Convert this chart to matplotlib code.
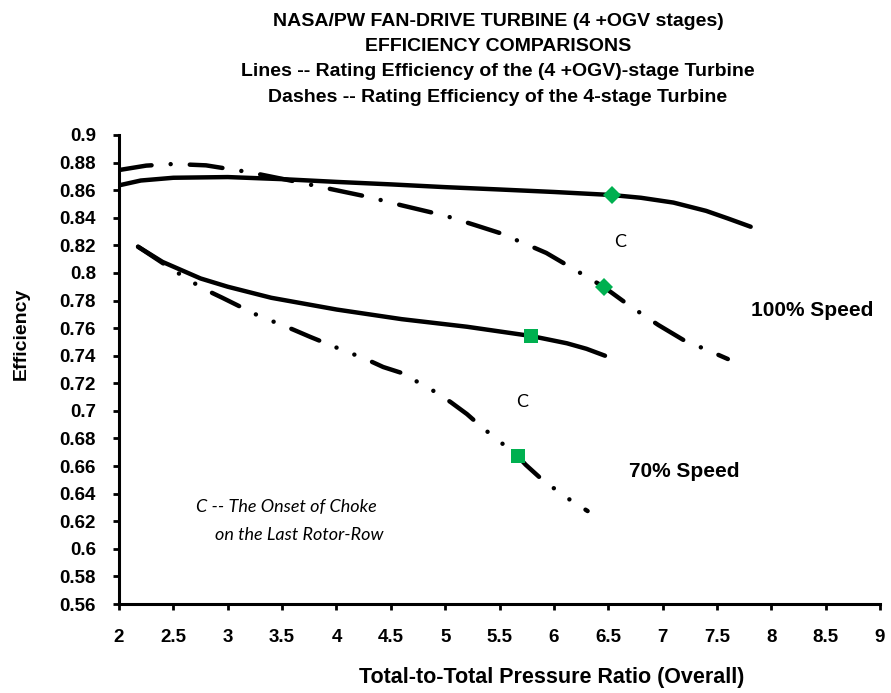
import numpy as np
import matplotlib
matplotlib.use("Agg")
import matplotlib.pyplot as plt
from matplotlib.ticker import MultipleLocator, FuncFormatter

# 100% speed, (4 +OGV)-stage turbine (solid)
x_100_ogv = [2.0, 2.2, 2.5, 3.0, 3.5, 4.0, 4.5, 5.0, 5.5, 6.0, 6.53, 6.8, 7.1, 7.4, 7.6, 7.81]
y_100_ogv = [0.8635, 0.867, 0.869, 0.8695, 0.868, 0.866, 0.8642, 0.8622, 0.8605, 0.8587,
             0.8565, 0.8545, 0.851, 0.845, 0.8395, 0.8335]

# 100% speed, 4-stage turbine (dash-dot)
x_100_4st = [2.0, 2.25, 2.5, 2.8, 3.2, 3.67, 3.9, 4.3, 4.6, 5.0, 5.27, 5.5, 5.76, 5.93,
             6.2, 6.46, 6.7, 6.96, 7.2, 7.4, 7.6]
y_100_4st = [0.8746, 0.8778, 0.879, 0.878, 0.873, 0.8655, 0.8616, 0.855, 0.849, 0.8415,
             0.8348, 0.829, 0.8203, 0.8145, 0.802, 0.7898, 0.776, 0.7623, 0.751, 0.7445, 0.7376]

# 70% speed, (4 +OGV)-stage turbine (solid)
x_70_ogv = [2.175, 2.4, 2.75, 3.0, 3.4, 4.0, 4.6, 5.2, 5.79, 6.12, 6.3, 6.47]
y_70_ogv = [0.819, 0.808, 0.796, 0.790, 0.782, 0.7735, 0.7665, 0.761, 0.7543, 0.749, 0.745, 0.740]

# 70% speed, 4-stage turbine (dash-dot-dot)
x_70_4st = [2.175, 2.47, 2.63, 2.78, 2.95, 3.27, 3.43, 3.6, 3.76, 4.1, 4.25, 4.43, 4.6,
            4.91, 5.05, 5.2, 5.34, 5.6, 5.67, 5.74, 5.88, 6.1, 6.31]
y_70_4st = [0.819, 0.8036, 0.7956, 0.7884, 0.782, 0.7695, 0.7644, 0.759, 0.7536, 0.7427,
            0.7383, 0.7318, 0.7275, 0.7137, 0.7064, 0.6977, 0.688, 0.6716, 0.667, 0.661,
            0.651, 0.638, 0.6274]

# onset of choke points
choke_100_x = [6.53, 6.46]
choke_100_y = [0.8565, 0.7898]
choke_70_x = [5.79, 5.67]
choke_70_y = [0.7543, 0.667]

title_lines = [
    "NASA/PW FAN-DRIVE TURBINE (4 +OGV stages)",
    "EFFICIENCY COMPARISONS",
    "Lines -- Rating Efficiency of the (4 +OGV)-stage Turbine",
    "Dashes -- Rating Efficiency of the 4-stage Turbine",
]

green = "#00B050"
lw = 3.2
arial = ["Liberation Sans", "DejaVu Sans"]
calibri = ["Lato", "Open Sans", "DejaVu Sans"]

fig = plt.figure(figsize=(8.91, 6.93), dpi=100)
ax = fig.add_axes([0.1336, 0.1284, 0.8541, 0.6768])

ax.plot(x_100_ogv, y_100_ogv, color="black", lw=lw, solid_capstyle="round")
ax.plot(x_70_ogv, y_70_ogv, color="black", lw=lw, solid_capstyle="round")
ax.plot(x_100_4st, y_100_4st, color="black", lw=lw, dash_capstyle="round",
        linestyle=(0, (7.4, 4.3, 0.01, 4.3)))
ax.plot(x_70_4st, y_70_4st, color="black", lw=lw, dash_capstyle="round",
        linestyle=(0, (6.8, 4.2, 0.01, 4.3, 0.01, 4.3)))

ax.plot(choke_100_x, choke_100_y, linestyle="none", marker="D", ms=9.5,
        color=green, markeredgewidth=0, zorder=5)
ax.plot(choke_70_x, choke_70_y, linestyle="none", marker="s", ms=10.5,
        color=green, markeredgewidth=0, zorder=5)

ax.set_xlim(2, 9)
ax.set_ylim(0.56, 0.9)
ax.xaxis.set_major_locator(MultipleLocator(0.5))
ax.yaxis.set_major_locator(MultipleLocator(0.02))
fmt = FuncFormatter(lambda v, p: "{:g}".format(round(v, 3)))
ax.xaxis.set_major_formatter(fmt)
ax.yaxis.set_major_formatter(fmt)
ax.tick_params(axis="both", direction="out", length=4.5, width=2, labelsize=13.5)
ax.tick_params(axis="x", pad=13.5)
ax.tick_params(axis="y", pad=12)
for lab in ax.get_xticklabels() + ax.get_yticklabels():
    lab.set_family(arial)
    lab.set_fontweight("bold")

for s in ["top", "right"]:
    ax.spines[s].set_visible(False)
for s in ["left", "bottom"]:
    ax.spines[s].set_linewidth(2.2)

# annotations
ax.text(6.61, 0.8225, "C", fontsize=13, family=calibri, ha="center", va="center")
ax.text(5.71, 0.7064, "C", fontsize=13, family=calibri, ha="center", va="center")
ax.text(8.38, 0.773, "100% Speed", fontsize=15, family=arial, fontweight="bold",
        ha="center", va="center")
ax.text(7.20, 0.6564, "70% Speed", fontsize=15, family=arial, fontweight="bold",
        ha="center", va="center")
ax.text(2.71, 0.6303, "C -- The Onset of Choke", fontsize=13, family=calibri,
        style="italic", ha="left", va="center")
ax.text(2.88, 0.610, "on the Last Rotor-Row", fontsize=13, family=calibri,
        style="italic", ha="left", va="center")

# title and axis labels
for i, line in enumerate(title_lines):
    fig.text(498 / 891, 1 - (21 + 25.5 * i) / 693, line, fontsize=14, family=arial,
             fontweight="bold", ha="center", va="center")
fig.text(552 / 891, 1 - 678 / 693, "Total-to-Total Pressure Ratio (Overall)",
         fontsize=15.5, family=arial, fontweight="bold", ha="center", va="center")
fig.text(21 / 891, 1 - 334 / 693, "Efficiency", fontsize=14, family=arial,
         fontweight="bold", rotation=90, ha="center", va="center")

fig.savefig("out.png", dpi=100)
